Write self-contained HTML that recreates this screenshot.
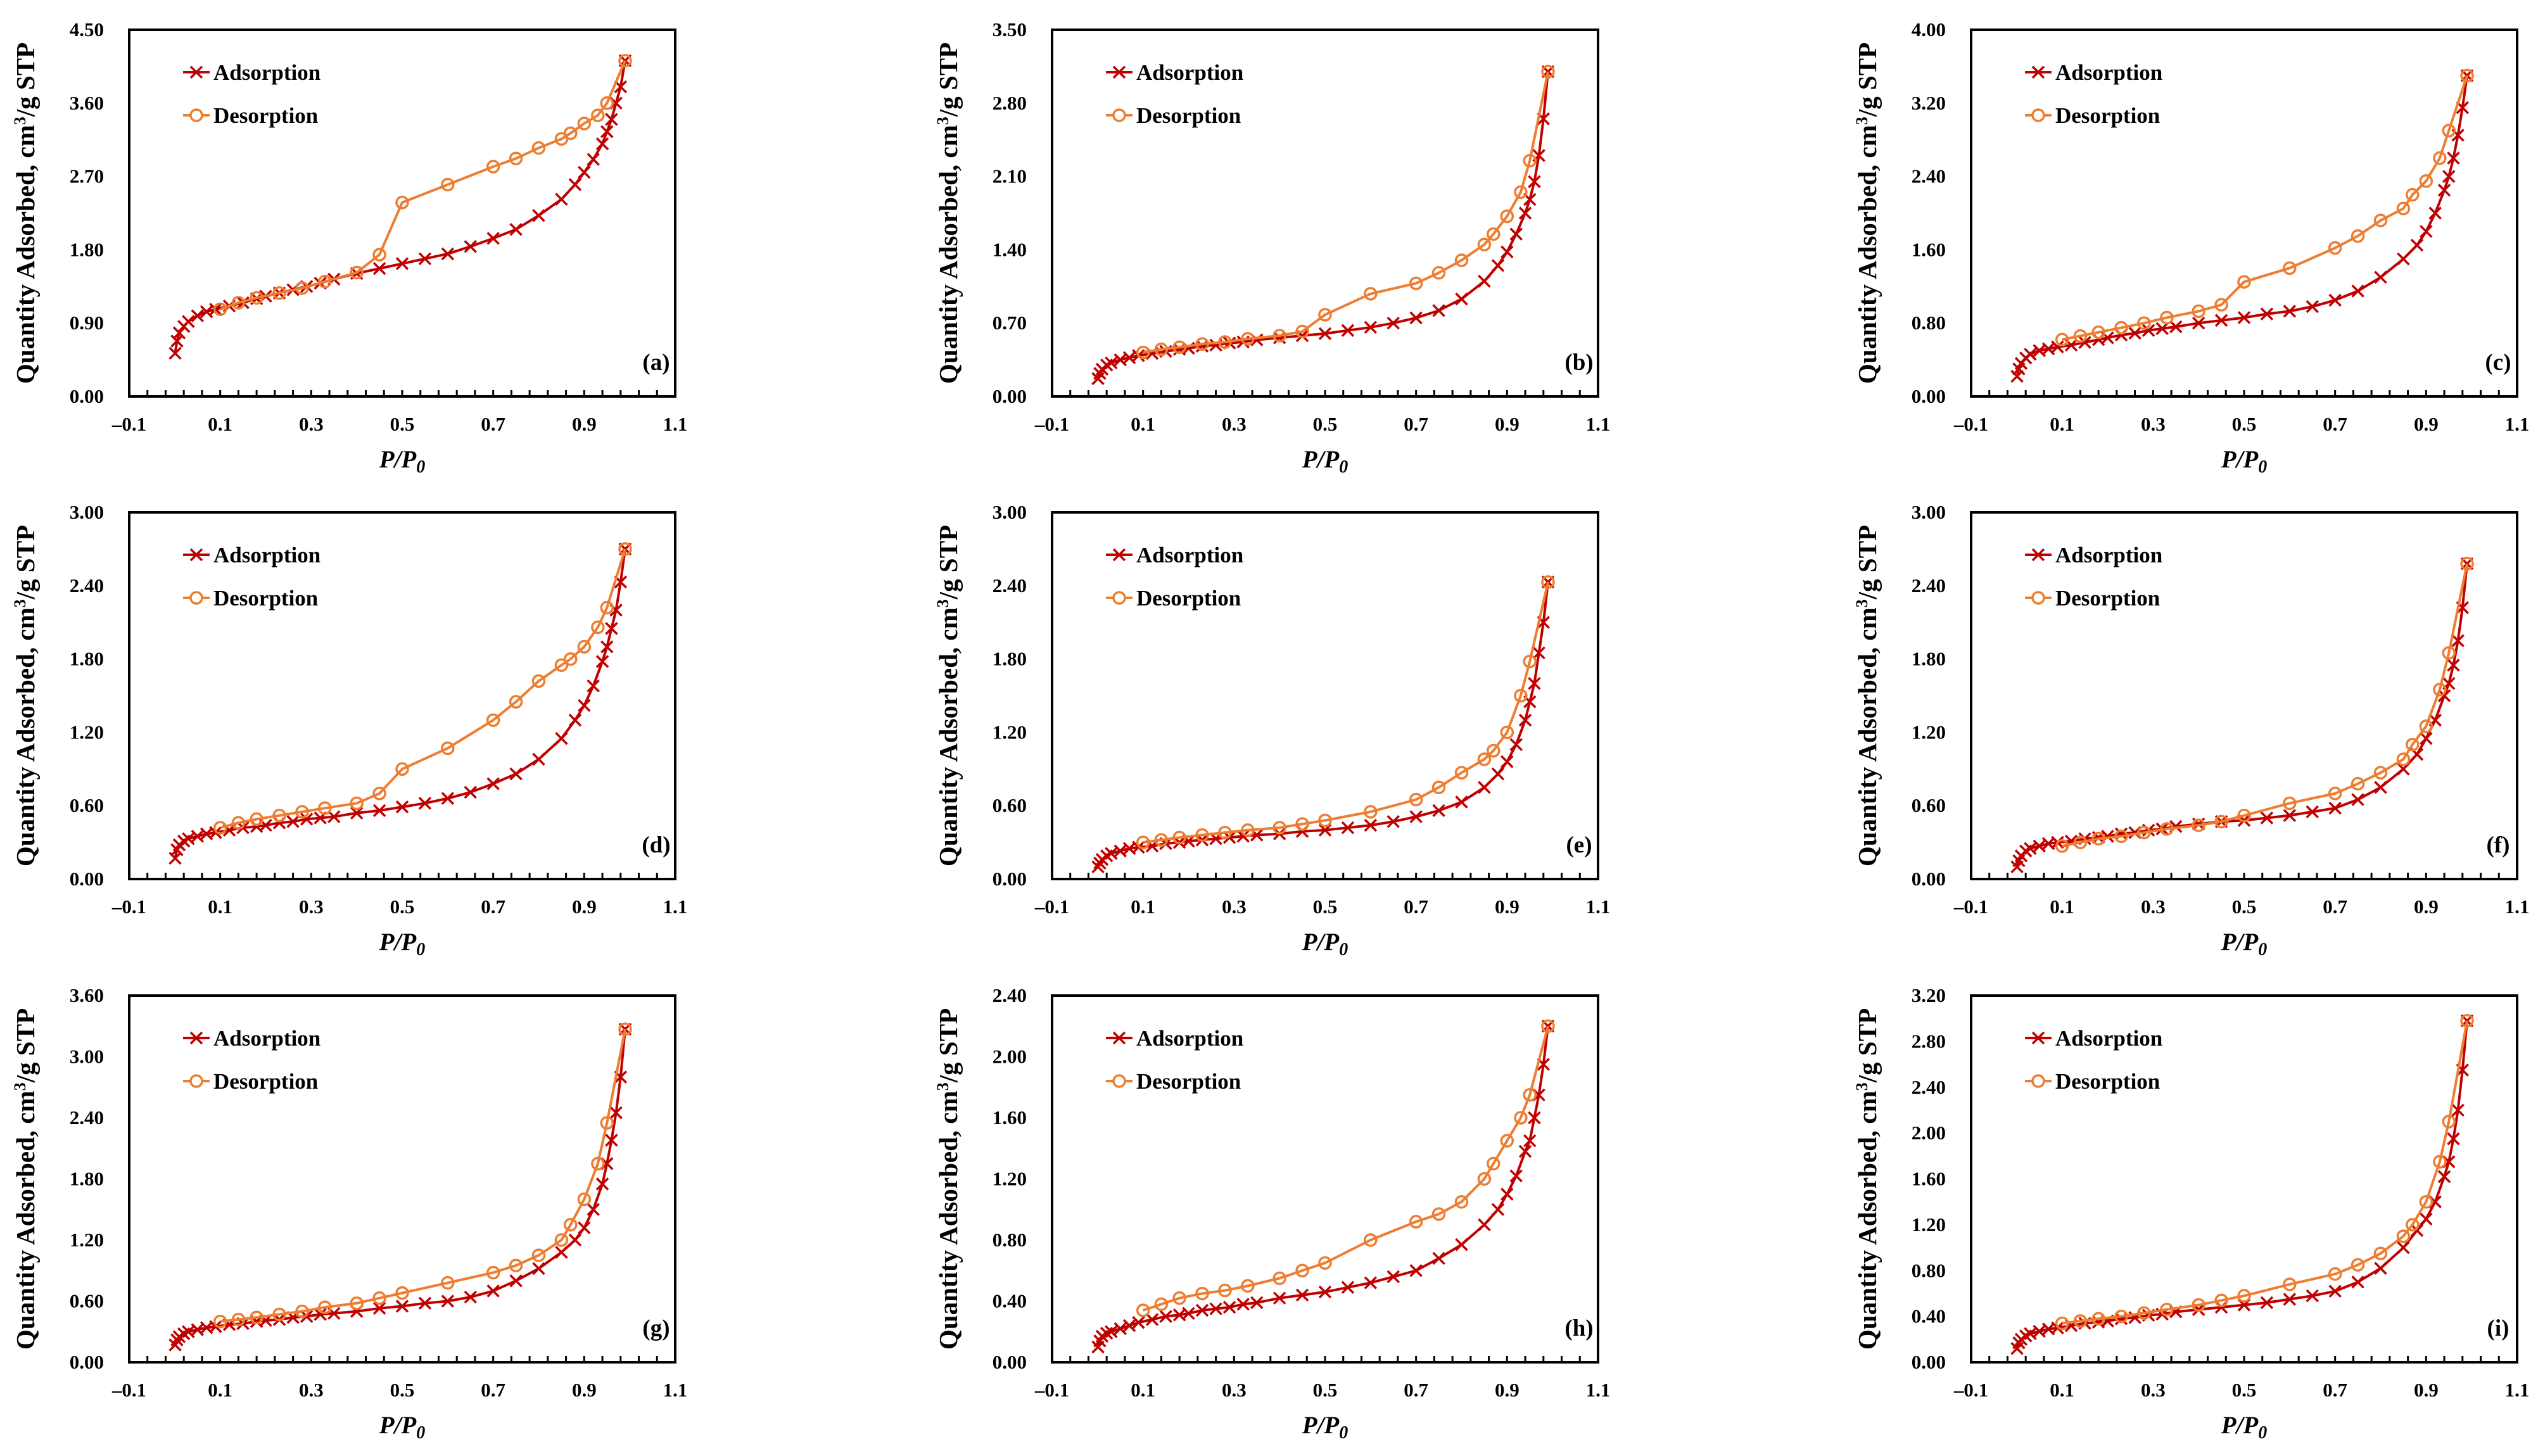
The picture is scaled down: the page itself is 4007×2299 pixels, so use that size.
<!DOCTYPE html>
<html><head><meta charset="utf-8"><style>
html,body{margin:0;padding:0;background:#fff;}
svg{display:block;font-family:"Liberation Serif",serif;font-weight:bold;}
</style></head><body>
<svg id="chart" width="4007" height="2299" viewBox="0 0 4007 2299" xmlns="http://www.w3.org/2000/svg"></svg>
<script>
const adsX = [0.001,0.005,0.01,0.02,0.03,0.05,0.07,0.09,0.12,0.15,0.18,0.2,0.23,0.26,0.29,0.32,0.35,0.4,0.45,0.5,0.55,0.6,0.65,0.7,0.75,0.8,0.85,0.88,0.9,0.92,0.94,0.95,0.96,0.97,0.98,0.99];
const desX = [0.99,0.95,0.93,0.9,0.87,0.85,0.8,0.75,0.7,0.6,0.5,0.45,0.4,0.33,0.28,0.23,0.18,0.14,0.1];
const xTicks = [-0.1,0.1,0.3,0.5,0.7,0.9,1.1];
const panelLabels = ["(a)","(b)","(c)","(d)","(e)","(f)","(g)","(h)","(i)"];
const yMaxes = [4.5,3.5,4.0,3.0,3.0,3.0,3.6,2.4,3.2];
const ySteps = [0.9,0.7,0.8,0.6,0.6,0.6,0.6,0.4,0.4];
const adsA = [0.53,0.68,0.78,0.86,0.92,0.99,1.04,1.07,1.11,1.15,1.20,1.23,1.27,1.31,1.35,1.39,1.44,1.51,1.57,1.63,1.69,1.75,1.84,1.94,2.05,2.22,2.42,2.6,2.75,2.91,3.1,3.25,3.4,3.6,3.8,4.12];
const desA = [4.12,3.6,3.45,3.35,3.23,3.16,3.05,2.92,2.82,2.6,2.38,1.74,1.52,1.41,1.33,1.27,1.21,1.15,1.07];
const adsB = [0.17,0.22,0.26,0.3,0.32,0.35,0.37,0.39,0.41,0.43,0.45,0.46,0.48,0.49,0.51,0.52,0.54,0.56,0.58,0.6,0.63,0.66,0.7,0.75,0.82,0.93,1.1,1.25,1.38,1.55,1.75,1.88,2.05,2.3,2.65,3.1];
const desB = [3.1,2.25,1.95,1.72,1.55,1.45,1.3,1.18,1.08,0.98,0.78,0.62,0.58,0.55,0.52,0.5,0.47,0.45,0.42];
const adsC = [0.22,0.3,0.36,0.42,0.46,0.5,0.52,0.54,0.56,0.59,0.62,0.64,0.67,0.69,0.72,0.74,0.76,0.8,0.83,0.86,0.9,0.93,0.98,1.05,1.15,1.3,1.5,1.65,1.8,2.0,2.25,2.4,2.6,2.85,3.15,3.5];
const desC = [3.5,2.9,2.6,2.35,2.2,2.05,1.92,1.75,1.62,1.4,1.25,1.0,0.93,0.86,0.8,0.75,0.7,0.66,0.62];
const adsD = [0.17,0.24,0.28,0.31,0.33,0.35,0.37,0.38,0.4,0.42,0.43,0.44,0.46,0.47,0.49,0.5,0.51,0.54,0.56,0.59,0.62,0.66,0.71,0.78,0.86,0.98,1.15,1.3,1.42,1.58,1.78,1.9,2.05,2.2,2.43,2.7];
const desD = [2.7,2.22,2.06,1.9,1.8,1.75,1.62,1.45,1.3,1.07,0.9,0.7,0.62,0.58,0.55,0.52,0.49,0.46,0.42];
const adsE = [0.1,0.13,0.16,0.19,0.21,0.23,0.25,0.26,0.27,0.29,0.3,0.31,0.32,0.33,0.34,0.35,0.36,0.37,0.39,0.4,0.42,0.44,0.47,0.51,0.56,0.63,0.75,0.86,0.96,1.1,1.3,1.45,1.6,1.85,2.1,2.43];
const desE = [2.43,1.78,1.5,1.2,1.05,0.98,0.87,0.75,0.65,0.55,0.48,0.45,0.42,0.4,0.38,0.36,0.34,0.32,0.3];
const adsF = [0.1,0.15,0.19,0.23,0.25,0.27,0.29,0.3,0.31,0.33,0.34,0.35,0.37,0.38,0.4,0.41,0.43,0.45,0.47,0.48,0.5,0.52,0.55,0.58,0.65,0.75,0.9,1.02,1.15,1.3,1.5,1.6,1.75,1.95,2.22,2.58];
const desF = [2.58,1.85,1.55,1.25,1.1,0.98,0.87,0.78,0.7,0.62,0.52,0.47,0.44,0.41,0.38,0.35,0.33,0.3,0.27];
const adsG = [0.17,0.22,0.25,0.28,0.3,0.32,0.34,0.35,0.37,0.38,0.4,0.41,0.42,0.44,0.45,0.47,0.48,0.5,0.53,0.55,0.58,0.6,0.64,0.7,0.8,0.92,1.08,1.2,1.32,1.5,1.75,1.95,2.18,2.45,2.8,3.27];
const desG = [3.27,2.35,1.95,1.6,1.35,1.2,1.05,0.95,0.88,0.78,0.68,0.63,0.58,0.54,0.5,0.47,0.44,0.42,0.4];
const adsH = [0.1,0.14,0.17,0.19,0.2,0.22,0.24,0.26,0.28,0.3,0.31,0.32,0.34,0.35,0.36,0.38,0.39,0.42,0.44,0.46,0.49,0.52,0.56,0.6,0.68,0.77,0.9,1.0,1.1,1.22,1.38,1.45,1.6,1.75,1.95,2.2];
const desH = [2.2,1.75,1.6,1.45,1.3,1.2,1.05,0.97,0.92,0.8,0.65,0.6,0.55,0.5,0.47,0.45,0.42,0.38,0.34];
const adsI = [0.12,0.17,0.2,0.23,0.25,0.27,0.29,0.3,0.32,0.34,0.35,0.36,0.38,0.39,0.41,0.42,0.44,0.46,0.48,0.5,0.52,0.55,0.58,0.62,0.7,0.82,1.0,1.15,1.25,1.4,1.62,1.75,1.95,2.2,2.55,2.98];
const desI = [2.98,2.1,1.75,1.4,1.2,1.1,0.95,0.85,0.77,0.68,0.58,0.54,0.5,0.46,0.43,0.4,0.38,0.36,0.34];
const adsAll = [adsA,adsB,adsC,adsD,adsE,adsF,adsG,adsH,adsI];
const desAll = [desA,desB,desC,desD,desE,desF,desG,desH,desI];

const NS = "http://www.w3.org/2000/svg";
const svg = document.getElementById("chart");
const colL = [204,1661,3112], rowT = [47,809,1572];
const PW = 862, PH = 579;
const RED = "#C00000", ORG = "#ED7D31";
function mk(tag, attrs, parent){const e=document.createElementNS(NS,tag);for(const k in attrs)e.setAttribute(k,attrs[k]);parent.appendChild(e);return e;}

for(let p=0;p<9;p++){
  const L=colL[p%3], T=rowT[Math.floor(p/3)], B=T+PH, R=L+PW;
  const g=mk("g",{},svg);
  
  
  const xs=v=>L+(v+0.1)/1.2*PW;
  const ys=v=>B-v/yMaxes[p]*PH;
  const frame=mk("rect",{x:L,y:T,width:PW,height:PH,fill:"none",stroke:"#000","stroke-width":4},g);
  
  
  for(let t=-0.1;t<=1.1001;t+=0.04){
    const tk=mk("line",{x1:xs(t),x2:xs(t),y1:B,y2:B-10,stroke:"#000","stroke-width":3},g);
    
    
  }
  xTicks.forEach(v=>{
    const t=mk("text",{x:xs(v),y:B+54,"text-anchor":"middle","font-size":31},g);
    t.textContent=(v<0?"\u2013":"")+Math.abs(v).toFixed(1);
    
    
  });
  const n=Math.round(yMaxes[p]/ySteps[p]);
  for(let i=0;i<=n;i++){
    const v=i*ySteps[p];
    const t=mk("text",{x:L-40,y:ys(v)+10,"text-anchor":"end","font-size":31},g);
    t.textContent=v.toFixed(2);
    
    
  }
  const xt=mk("text",{x:L+PW/2,y:B+112,"text-anchor":"middle","font-size":39,"font-style":"italic"},g);
  xt.innerHTML='P/P<tspan font-size="28" dy="8">0</tspan>';
  
  
  const yt=mk("text",{x:0,y:0,"text-anchor":"middle","font-size":41,transform:`translate(${L-150},${T+PH/2}) rotate(-90)`},g);
  yt.setAttribute('xml:space','preserve');
  yt.innerHTML='Quantity Adsorbed, cm<tspan font-size="26" dy="-14">3</tspan><tspan dy="14">/g  STP</tspan>';
  
  
  const pl=mk("text",{x:R-30,y:B-42,"text-anchor":"middle","font-size":37},g);
  pl.textContent=panelLabels[p];
  
  
  const ads=adsAll[p], des=desAll[p];
  const adsPts=adsX.map((x,i)=>xs(x)+","+ys(ads[i])).join(" ");
  const desPts=desX.map((x,i)=>xs(x)+","+ys(des[i])).join(" ");
  const al=mk("polyline",{points:adsPts,fill:"none",stroke:RED,"stroke-width":4},g);
  
  
  adsX.forEach((x,i)=>{
    const cx=xs(x), cy=ys(ads[i]), s=9;
    const m=mk("path",{d:`M${cx-s},${cy-s}L${cx+s},${cy+s}M${cx-s},${cy+s}L${cx+s},${cy-s}`,stroke:RED,"stroke-width":3.5},g);
    
    
  });
  const dl=mk("polyline",{points:desPts,fill:"none",stroke:ORG,"stroke-width":4},g);
  
  
  desX.forEach((x,i)=>{
    const c=mk("circle",{cx:xs(x),cy:ys(des[i]),r:9,fill:"none",stroke:ORG,"stroke-width":3.5},g);
    
    
  });
  const lg=mk("g",{},g);
  
  
  const y1=T+67, y2=T+135, lx=L+85;
  mk("line",{x1:lx,x2:lx+42,y1:y1,y2:y1,stroke:RED,"stroke-width":4},lg);
  mk("path",{d:`M${lx+12},${y1-9}L${lx+30},${y1+9}M${lx+12},${y1+9}L${lx+30},${y1-9}`,stroke:RED,"stroke-width":3.5},lg);
  const t1=mk("text",{x:lx+48,y:y1+12,"font-size":35},lg);t1.textContent="Adsorption";
  
  
  mk("line",{x1:lx,x2:lx+42,y1:y2,y2:y2,stroke:ORG,"stroke-width":4},lg);
  mk("circle",{cx:lx+21,cy:y2,r:9,fill:"#fff",stroke:ORG,"stroke-width":3.5},lg);
  const t2=mk("text",{x:lx+48,y:y2+12,"font-size":35},lg);t2.textContent="Desorption";
  
  
}
</script>
</body></html>
